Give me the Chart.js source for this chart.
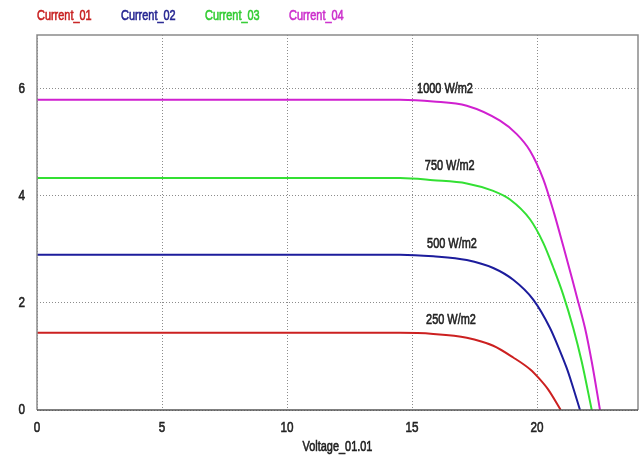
<!DOCTYPE html>
<html>
<head>
<meta charset="utf-8">
<script src="https://cdn.jsdelivr.net/npm/chart.js@4/dist/chart.umd.min.js"></script>
<style>
  html, body { margin: 0; padding: 0; background: #fff; }
  #wrap { width: 643px; height: 457px; }
</style>
</head>
<body>
<div id="wrap"><canvas id="ivChart"></canvas></div>
<script>
// Courbes I-V d'un module PV pour quatre niveaux d'éclairement
const seriesNames = ['Current_01', 'Current_02', 'Current_03', 'Current_04'];
const irradiance = ['250 W/m2', '500 W/m2', '750 W/m2', '1000 W/m2'];
const xTitle = 'Voltage_01.01';

const voltage01 = [0, 10, 14.52, 15.85, 17.19, 18.25, 19.05, 19.72, 20.1, 20.45, 20.95];
const current01 = [1.44, 1.44, 1.44, 1.42, 1.35, 1.20, 0.98, 0.76, 0.58, 0.38, 0];

const voltage02 = [0, 10, 14.52, 15.85, 17.19, 18.25, 19.05, 19.85, 20.52, 20.92, 21.19, 21.39, 21.72];
const current02 = [2.90, 2.90, 2.90, 2.87, 2.80, 2.65, 2.43, 2.06, 1.53, 1.10, 0.78, 0.50, 0];

const voltage03 = [0, 10, 14.52, 15.85, 17.19, 18.25, 18.92, 19.72, 20.25, 20.65, 21.05, 21.45, 21.79, 22.19];
const current03 = [4.33, 4.33, 4.33, 4.29, 4.23, 4.09, 3.93, 3.56, 3.12, 2.66, 2.15, 1.53, 0.90, 0];

const voltage04 = [0, 10, 14.52, 15.85, 17.19, 18.52, 19.19, 19.72, 20.25, 20.68, 21.05, 21.41, 21.59, 21.92, 22.19, 22.52];
const current04 = [5.79, 5.79, 5.79, 5.76, 5.68, 5.40, 5.15, 4.84, 4.31, 3.68, 3.06, 2.44, 2.12, 1.53, 0.90, 0];

const xTicks = [0, 5, 10, 15, 20];
const yTicks = [0, 2, 4, 6];

const lineColors = ['#cc2020', '#1c1c9c', '#33e033', '#d020d0'];
const legendColors = ['#c82222', '#262692', '#33cc33', '#cc30cc'];

// Police étroite simulée : Liberation Sans compressée horizontalement
const LABEL_FONT = '14px "Liberation Sans", Arial, sans-serif';
const TICK_FONT = '15px "Liberation Sans", Arial, sans-serif';
const SQUEEZE = 0.78;

function narrowText(ctx, text, x, y, align, color, font) {
    ctx.save();
    ctx.font = font || LABEL_FONT;
    ctx.fillStyle = color;
    ctx.strokeStyle = color;
    ctx.lineWidth = 0.6;
    ctx.textBaseline = 'middle';
    ctx.textAlign = align;
    ctx.translate(x, y);
    ctx.scale(SQUEEZE, 1);
    ctx.fillText(text, 0, 0);
    ctx.strokeText(text, 0, 0);
    ctx.restore();
}

function points(vs, is) {
    return vs.map((v, i) => ({ x: v, y: is[i] }));
}

const curves = [
    points(voltage01, current01),
    points(voltage02, current02),
    points(voltage03, current03),
    points(voltage04, current04)
];

// Ancrage des étiquettes d'éclairement (unités V / A)
const labelAnchors = [
    { x: 16.56, y: 1.67 },
    { x: 16.6, y: 3.09 },
    { x: 16.51, y: 4.56 },
    { x: 16.32, y: 5.99 }
];

const textLayer = {
    id: 'textLayer',
    afterDraw(chart) {
        const { ctx, chartArea: a, scales: { x, y } } = chart;

        // cadre de la zone de tracé
        ctx.save();
        ctx.lineWidth = 1.5;
        ctx.strokeStyle = '#8a8a8a';
        ctx.beginPath();
        ctx.moveTo(a.left, a.bottom);
        ctx.lineTo(a.left, a.top);
        ctx.lineTo(a.right, a.top);
        ctx.lineTo(a.right, a.bottom);
        ctx.stroke();
        ctx.strokeStyle = '#555';
        ctx.beginPath();
        ctx.moveTo(a.left, a.bottom);
        ctx.lineTo(a.right, a.bottom);
        ctx.stroke();
        ctx.restore();

        // légende en texte coloré
        seriesNames.forEach((name, i) => {
            narrowText(ctx, name, a.left + i * 84, 16, 'left', legendColors[i]);
        });

        // graduations
        x.ticks.forEach(t => {
            narrowText(ctx, String(t.value), x.getPixelForValue(t.value), 428, 'center', '#222', TICK_FONT);
        });
        y.ticks.forEach(t => {
            narrowText(ctx, String(t.value), a.left - 12, y.getPixelForValue(t.value), 'right', '#222', TICK_FONT);
        });

        // titre de l'axe X
        narrowText(ctx, xTitle, (a.left + a.right) / 2, 447, 'center', '#222');

        // étiquettes des courbes
        labelAnchors.forEach((p, i) => {
            narrowText(ctx, irradiance[i], x.getPixelForValue(p.x), y.getPixelForValue(p.y), 'center', '#222');
        });
    }
};

const ctx = document.getElementById('ivChart').getContext('2d');
const ivChart = new Chart(ctx, {
    type: 'line',
    data: {
        datasets: curves.map((pts, i) => ({
            label: seriesNames[i],
            data: pts,
            borderColor: lineColors[i],
            borderWidth: 2,
            pointRadius: 0,
            fill: false,
            cubicInterpolationMode: 'monotone'
        }))
    },
    options: {
        responsive: true,
        maintainAspectRatio: false,
        animation: false,
        layout: { padding: { left: 0, right: 5, top: 35, bottom: 0 } },
        plugins: {
            legend: { display: false },
            tooltip: { enabled: false }
        },
        scales: {
            x: {
                type: 'linear',
                min: 0,
                max: 24.04,
                afterBuildTicks: (s) => { s.ticks = xTicks.map(v => ({ value: v })); },
                afterFit: (s) => { s.height = 47; },
                ticks: { display: false },
                grid: { color: '#8c8c8c', drawTicks: false },
                border: { display: false, dash: [1, 2] }
            },
            y: {
                type: 'linear',
                min: 0,
                max: 7,
                afterBuildTicks: (s) => { s.ticks = yTicks.map(v => ({ value: v })); },
                afterFit: (s) => { s.width = 37; },
                ticks: { display: false },
                grid: { color: '#8c8c8c', drawTicks: false },
                border: { display: false, dash: [1, 2] }
            }
        }
    },
    plugins: [textLayer]
});
</script>
</body>
</html>
